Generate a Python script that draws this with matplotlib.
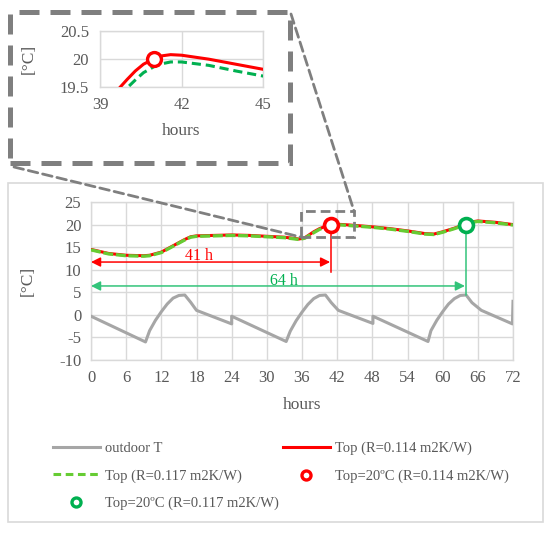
import matplotlib.pyplot as plt
from matplotlib.lines import Line2D
from matplotlib.patches import Rectangle, ConnectionPatch

plt.rcParams['font.family'] = ['Liberation Serif', 'DejaVu Serif']
plt.rcParams['axes.unicode_minus'] = False

# outdoor air temperature
hours_out = [0, 9.3, 10, 11, 12, 13, 14, 15, 16, 17, 18, 24,
             24, 33.3, 34, 35, 36, 37, 38, 39, 40, 41, 42.2, 48.1,
             48.1, 57.5, 58, 59, 60, 61, 62, 63, 64, 65, 66.6, 71.9, 72]
temp_out = [-0.3, -6.0, -3.5, -1.2, 0.7, 2.4, 3.7, 4.3, 4.4, 2.8, 1.0, -2.0,
            -0.3, -5.9, -3.6, -1.3, 0.6, 2.3, 3.6, 4.3, 4.4, 2.7, 1.0, -1.9,
            -0.3, -5.9, -3.5, -1.2, 0.7, 2.4, 3.6, 4.3, 4.4, 2.7, 1.0, -2.0, 3.0]

# operative temperature, R = 0.114 and R = 0.117 m2K/W
hours_top = [0, 3, 6, 9, 10, 12, 14, 16, 17, 18, 21, 24, 27, 30, 33, 35.5,
             36.5, 38, 39, 39.4, 39.7, 40, 40.3, 40.6, 41, 41.3, 41.6, 42, 43,
             44, 45, 48, 51, 54, 57, 58.5, 60, 62, 64, 65, 66, 69, 72]
top_114 = [14.5, 13.6, 13.2, 13.1, 13.2, 13.9, 15.3, 16.7, 17.3, 17.5, 17.6, 17.7,
           17.6, 17.4, 17.2, 16.8, 17.1, 18.4, 19.1, 19.3, 19.48, 19.64, 19.79,
           19.91, 20.01, 20.06, 20.08, 20.07, 20.0, 19.91, 19.82, 19.5, 19.1,
           18.6, 18.0, 17.9, 18.4, 19.2, 20.1, 20.6, 20.8, 20.5, 20.0]
top_117 = [14.4, 13.5, 13.1, 13.0, 13.1, 13.8, 15.2, 16.6, 17.2, 17.4, 17.5, 17.6,
           17.5, 17.3, 17.1, 16.7, 17.0, 18.2, 18.95, 19.15, 19.32, 19.49, 19.63,
           19.76, 19.87, 19.92, 19.95, 19.95, 19.89, 19.79, 19.70, 19.4, 19.0,
           18.5, 17.9, 17.8, 18.3, 19.1, 20.0, 20.5, 20.7, 20.4, 19.9]

# hours when Top first reaches 20 degC
reach_hours = [41, 64]
reach_temp = 20
arrow_levels = [11.7, 6.4]
line_bottoms = [9.4, 4.4]
arrow_labels = ['41 h', '64 h']

x_ticks = list(range(0, 73, 6))
y_ticks = list(range(-10, 26, 5))

gray_txt = '#595959'
grid_c = '#d9d9d9'
red = '#ff0000'
green_dash = '#66cc33'
green_mk = '#00b050'
green_arrow = '#33c47a'
out_c = '#a6a6a6'
box_c = '#7f7f7f'

W, H = 550, 533
fig = plt.figure(figsize=(5.5, 5.33), dpi=100)


def px_box(x0, y0, x1, y1):
    return [x0 / W, 1 - y1 / H, (x1 - x0) / W, (y1 - y0) / H]


def style_axes(a):
    a.grid(True, color=grid_c, lw=1.0)
    a.set_axisbelow(True)
    for s in a.spines.values():
        s.set_color(grid_c)
        s.set_linewidth(1.0)
    a.tick_params(length=0, colors=gray_txt, labelsize=12)


# outer frame
fig.patches.append(Rectangle((8 / W, 1 - 522 / H), 535 / W, 339 / H,
                             transform=fig.transFigure, fill=False,
                             edgecolor=grid_c, lw=1.2, zorder=0))

# main chart
ax = fig.add_axes(px_box(91, 202, 513, 360))
style_axes(ax)
ax.plot(hours_out, temp_out, color=out_c, lw=2.2, zorder=3)
ax.plot(hours_top, top_114, color=red, lw=2.2, zorder=4)
ax.plot(hours_top, top_117, color=green_dash, lw=2.4, ls=(0, (3, 0.8)), zorder=5)

ann_colors = [red, green_arrow]
txt_colors = [red, green_mk]
txt_pos = [(18.5, 13.1), (33, 7.4)]
for h, lev, bot, lab, c, tc, tp in zip(reach_hours, arrow_levels, line_bottoms,
                                       arrow_labels, ann_colors, txt_colors, txt_pos):
    ax.plot([h, h], [reach_temp, bot], color=c, lw=1.1, zorder=3)
    ax.annotate('', xy=(h - 0.2, lev), xytext=(0, lev),
                arrowprops=dict(arrowstyle='<|-|>', color=c, lw=1.1,
                                shrinkA=0, shrinkB=0, mutation_scale=14),
                zorder=3)
    ax.text(tp[0], tp[1], lab, color=tc, fontsize=11.5, ha='center', va='center',
            zorder=6)

ax.plot(reach_hours[0], reach_temp, 'o', ms=10, mfc='white', mec=red, mew=2.6, zorder=7)
ax.plot(reach_hours[1], reach_temp, 'o', ms=10, mfc='white', mec=green_mk, mew=2.6, zorder=7)

ax.set_xlim(0, 72)
ax.set_ylim(-10, 25)
ax.set_xticks(x_ticks)
ax.set_yticks(y_ticks)
ax.tick_params(axis='x', pad=7)
ax.tick_params(axis='y', pad=7)
ax.set_xlabel('hours', fontsize=12.5, color=gray_txt, va='top')
ax.set_ylabel('[°C]', fontsize=12.5, color=gray_txt)
ax.xaxis.set_label_coords(0.5, -0.236)
ax.yaxis.set_label_coords(-0.131, 0.5)

# zoom rectangle on main chart
zx0, zx1, zy0, zy1 = 35.9, 44.9, 17.2, 22.9
ax.add_patch(Rectangle((zx0, zy0), zx1 - zx0, zy1 - zy0, fill=False,
                       edgecolor=box_c, lw=2.0, ls=(0, (3.5, 1.8)), zorder=8,
                       clip_on=False))

# inset chart
ins = fig.add_axes(px_box(100, 31, 263, 87.3))
style_axes(ins)
ins.plot(hours_top, top_114, color=red, lw=2.2, zorder=4)
ins.plot(hours_top, top_117, color=green_mk, lw=2.2, ls=(0, (3, 1.6)), zorder=5)
ins.plot(reach_hours[0], reach_temp, 'o', ms=10, mfc='white', mec=red, mew=2.4, zorder=7)
ins.set_xlim(39, 45)
ins.set_ylim(19.5, 20.5)
ins.set_xticks([39, 42, 45])
ins.set_yticks([19.5, 20, 20.5])
ins.set_yticklabels(['19.5', '20', '20.5'])
ins.tick_params(axis='x', pad=7)
ins.tick_params(axis='y', pad=8)
ins.set_xlabel('hours', fontsize=12.5, color=gray_txt, va='top')
ins.set_ylabel('[°C]', fontsize=12.5, color=gray_txt)
ins.xaxis.set_label_coords(0.5, -0.636)
ins.yaxis.set_label_coords(-0.388, 0.5)

# dashed frame around the inset
fig.patches.append(Rectangle((10 / W, 1 - 163 / H), 280 / W, 151 / H,
                             transform=fig.transFigure, fill=False,
                             edgecolor=box_c, lw=3.6, ls=(0, (4, 2.2)), zorder=9))

# connector lines
for fx, fy, dx, dy in [(14 / W, 1 - 167 / H, zx0, zy0), (291 / W, 1 - 14 / H, zx1, zy1)]:
    con = ConnectionPatch(xyA=(fx, fy), coordsA=fig.transFigure,
                          xyB=(dx, dy), coordsB=ax.transData,
                          color=box_c, lw=2.0, ls=(0, (3.5, 1.8)), zorder=9)
    fig.add_artist(con)

# legend, filled row by row like the original
h_out = Line2D([], [], color=out_c, lw=2.2)
h_114 = Line2D([], [], color=red, lw=2.2)
h_117 = Line2D([], [], color=green_dash, lw=2.2, ls=(0, (2.5, 1.5)))
h_m114 = Line2D([], [], ls='none', marker='o', ms=6.5, mfc='white', mec=red, mew=2.4)
h_m117 = Line2D([], [], ls='none', marker='o', ms=6.5, mfc='white', mec=green_mk, mew=2.4)
handles = [h_out, h_117, h_m117, h_114, h_m114]
labels = ['outdoor T', 'Top (R=0.117 m2K/W)', 'Top=20ºC (R=0.117 m2K/W)',
          'Top (R=0.114 m2K/W)', 'Top=20ºC (R=0.114 m2K/W)']
leg = fig.legend(handles, labels, ncol=2, loc='upper left',
                 bbox_to_anchor=(53 / W, 1 - 442 / H), frameon=False,
                 fontsize=10.5, handlelength=3.2, handletextpad=0.35,
                 columnspacing=0.3, labelspacing=0.95, borderpad=0,
                 borderaxespad=0, labelcolor=gray_txt)

fig.savefig('out.png', dpi=100)
